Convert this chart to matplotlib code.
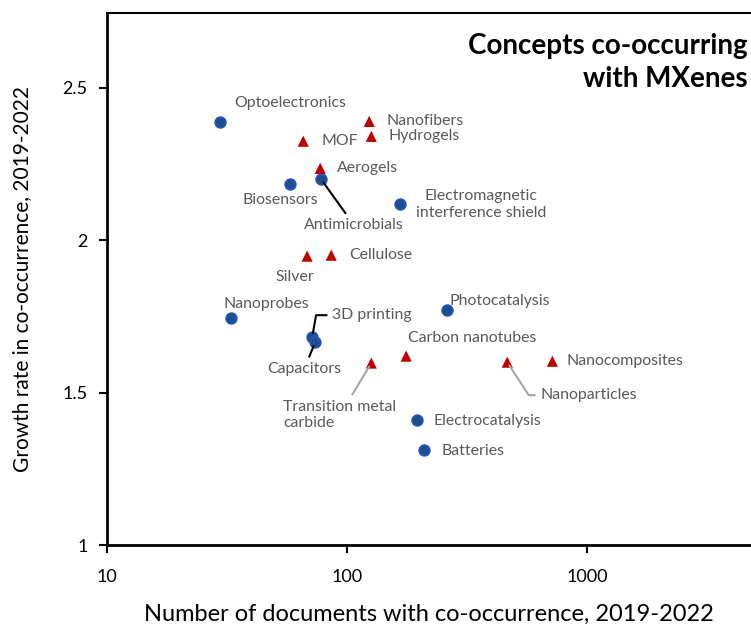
import matplotlib
matplotlib.use("Agg")
import matplotlib.pyplot as plt

# concepts drawn as blue circles
circle_names = ["Optoelectronics", "Antimicrobials", "Biosensors",
                "Electromagnetic\ninterference shield", "Nanoprobes", "Photocatalysis",
                "3D printing", "Capacitors", "Electrocatalysis", "Batteries"]
circle_docs = [29.6, 77.9, 57.9, 166, 32.9, 261, 71.5, 73.6, 196, 209]
circle_growth = [2.387, 2.20, 2.184, 2.118, 1.744, 1.770, 1.682, 1.666, 1.41, 1.311]

# concepts drawn as red triangles
tri_names = ["Nanofibers", "Hydrogels", "MOF", "Aerogels", "Silver", "Cellulose",
             "Carbon nanotubes", "Transition metal\ncarbide", "Nanoparticles", "Nanocomposites"]
tri_docs = [123.5, 126, 65.6, 77.2, 68.1, 85.8, 176, 126, 464, 715]
tri_growth = [2.39, 2.341, 2.325, 2.236, 1.948, 1.951, 1.62, 1.597, 1.60, 1.603]

# label placement: (dx, dy) in pixels, horizontal alignment, leader line colour
label_pos = {
    "Optoelectronics": (14, 19, "left", None),
    "Antimicrobials": (33, -46, "center", "black"),
    "Biosensors": (-10, -16, "center", None),
    "Electromagnetic\ninterference shield": (81, 0, "center", None),
    "Nanoprobes": (-8, 14, "left", None),
    "Photocatalysis": (2, 9, "left", None),
    "3D printing": (20, 22, "left", "black"),
    "Capacitors": (-11, -27, "center", "black"),
    "Electrocatalysis": (16, -1, "left", None),
    "Batteries": (17, -1, "left", None),
    "Nanofibers": (17, 0, "left", None),
    "Hydrogels": (17, 0, "left", None),
    "MOF": (18, 0, "left", None),
    "Aerogels": (17, 0, "left", None),
    "Silver": (-12, -21, "center", None),
    "Cellulose": (18, 0, "left", None),
    "Carbon nanotubes": (2, 18, "left", None),
    "Transition metal\ncarbide": (-88, -52, "left", "#a6a6a6"),
    "Nanoparticles": (33, -33, "left", "#a6a6a6"),
    "Nanocomposites": (14, 0, "left", None),
}

plt.rcParams['font.family'] = ['Lato', 'DejaVu Sans']

fig = plt.figure(figsize=(7.51, 6.29), dpi=100)
ax = fig.add_axes([0.1425, 0.1335, 0.8575, 0.8455])

ax.scatter(circle_docs, circle_growth, s=60, marker="o", color="#1f4e8c",
           edgecolors="#2255c4", linewidths=1.2, zorder=3)
ax.scatter(tri_docs, tri_growth, s=65, marker="^", color="#c00000",
           edgecolors="none", zorder=3)

for names, xs, ys in [(circle_names, circle_docs, circle_growth),
                      (tri_names, tri_docs, tri_growth)]:
    for name, x, y in zip(names, xs, ys):
        dx, dy, ha, lc = label_pos[name]
        props = None
        if lc is not None:
            props = dict(arrowstyle="-", color=lc, lw=1.5, shrinkA=2, shrinkB=3)
            if name == "3D printing":
                props["connectionstyle"] = "angle,angleA=0,angleB=80,rad=0"
            if name == "Nanoparticles":
                props["connectionstyle"] = "angle,angleA=0,angleB=-57,rad=0"
        ax.annotate(name, (x, y), xytext=(dx, dy), textcoords="offset pixels",
                    ha=ha, va="center", fontsize=11.4, color="#595959",
                    multialignment=ha, linespacing=1.25,
                    arrowprops=props, zorder=4)

ax.set_xscale("log")
ax.set_xlim(10, 4800)
ax.set_ylim(1, 2.745)
ax.set_xticks([10, 100, 1000])
ax.set_xticklabels(["10", "100", "1000"])
ax.minorticks_off()
ax.set_yticks([1, 1.5, 2, 2.5])
ax.set_yticklabels(["1", "1.5", "2", "2.5"])
ax.tick_params(axis="both", direction="out", length=6, width=1.5, labelsize=13,
               colors="black")
ax.tick_params(axis="x", pad=11)
ax.tick_params(axis="y", pad=8)

ax.spines["left"].set_linewidth(2)
ax.spines["bottom"].set_linewidth(2)
ax.spines["top"].set_linewidth(1.5)
ax.spines["right"].set_visible(False)

ax.set_xlabel("Number of documents with co-occurrence, 2019-2022", fontsize=17,
              labelpad=14)
ax.set_ylabel("Growth rate in co-occurrence, 2019-2022", fontsize=15, labelpad=22)

fig.text(0.995, 0.948, "Concepts co-occurring\nwith MXenes", ha="right", va="top",
         fontsize=20, fontweight="bold", linespacing=1.35)

fig.savefig("out.png", dpi=100)
